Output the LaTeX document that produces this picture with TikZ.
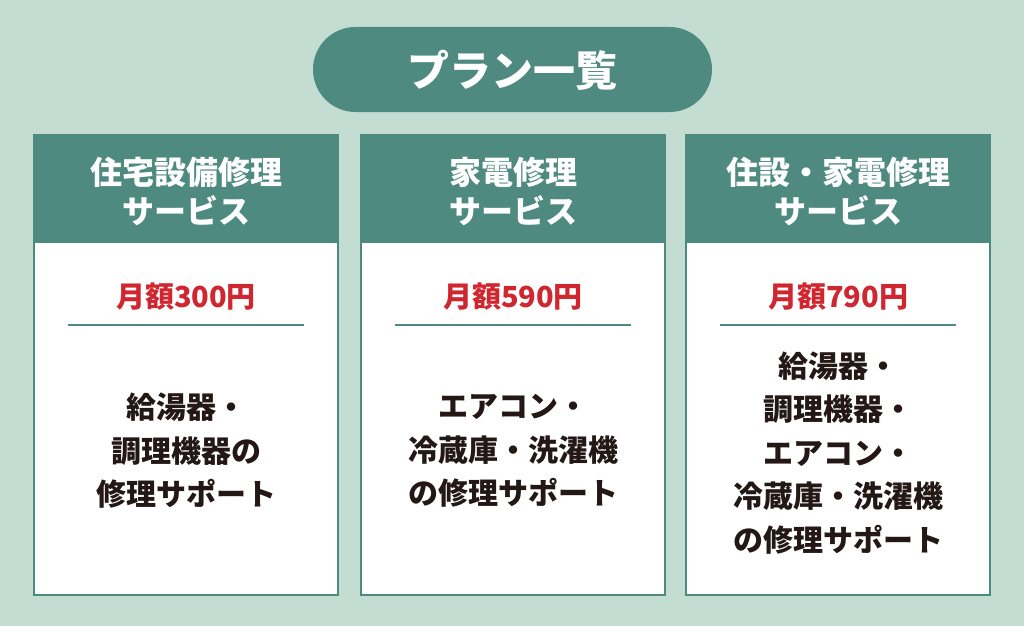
\documentclass[tikz,border=0pt]{standalone}
\usepackage{fontspec}
\setmainfont{Noto Sans CJK JP}
\definecolor{bg}{HTML}{C3DDD3}
\definecolor{teal}{HTML}{4E8A80}
\definecolor{pred}{HTML}{D0262F}
\definecolor{ink}{HTML}{231815}
\begin{document}
\begin{tikzpicture}[x=1pt,y=-1pt,
  hdr/.style={text=white,font=\bfseries\fontsize{32}{39}\selectfont,align=center},
  price/.style={text=pred,font=\bfseries\fontsize{29}{34}\selectfont},
  body/.style={text=ink,font=\bfseries\fontsize{30}{43.5}\selectfont,align=center}]
\fill[bg] (0,0) rectangle (1024,626);
\useasboundingbox (0,0) rectangle (1024,626);
\fill[teal,rounded corners=42.5pt] (313,27) rectangle (712,112);
\node[text=white,font=\bfseries\fontsize{42}{48}\selectfont] (title) at (512,70) {プラン一覧};
\foreach \x/\n in {34/a,361/b,686/c}{
  \fill[white] (\x,135) rectangle ++(304,460);
  \draw[teal,line width=2] (\x,135) rectangle ++(304,460);
  \fill[teal] (\x,135) rectangle ++(304,108);
  \draw[teal,line width=2] (\x+34,325) -- (\x+270,325);
}
\node[hdr] (h1) at (186,191) {住宅設備修理\\サービス};
\node[hdr] (h2) at (513,191) {家電修理\\サービス};
\node[hdr] (h3) at (838,191) {住設・家電修理\\サービス};
\node[price] (p1) at (186,297) {月額300円};
\node[price] (p2) at (513,297) {月額590円};
\node[price] (p3) at (838,297) {月額790円};
\node[body] (b1) at (186,451) {給湯器・\\調理機器の\\修理サポート};
\node[body] (b2) at (513,451) {エアコン・\\冷蔵庫・洗濯機\\の修理サポート};
\node[body] (b3) at (838,453) {給湯器・\\調理機器・\\エアコン・\\冷蔵庫・洗濯機\\の修理サポート};
\end{tikzpicture}
\end{document}
